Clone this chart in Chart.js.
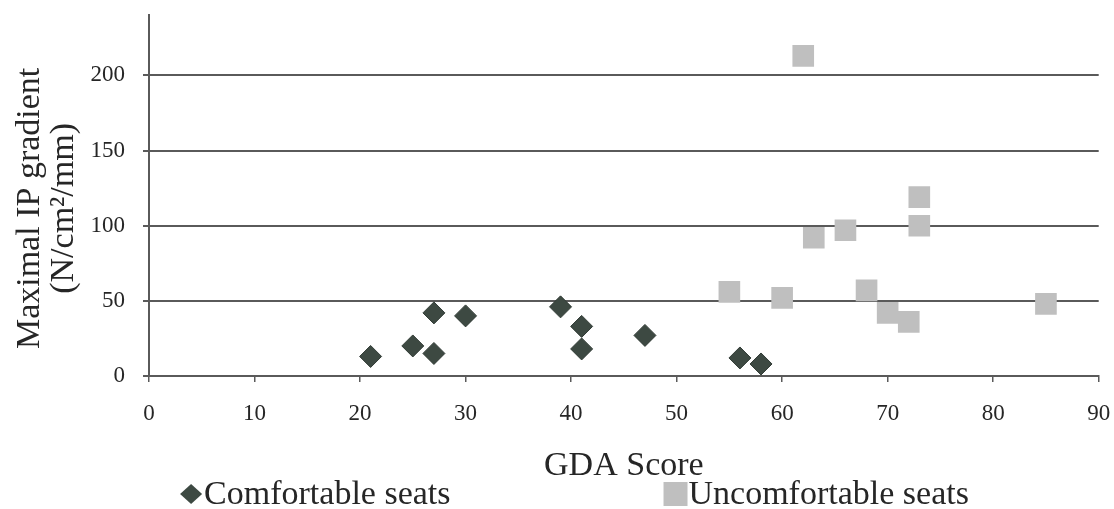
<!DOCTYPE html>
<html>
<head>
<meta charset="utf-8">
<script src="https://cdn.jsdelivr.net/npm/chart.js@4/dist/chart.umd.min.js"></script>
<style>
  html, body { margin: 0; padding: 0; background: #ffffff; }
  #wrap { width: 1114px; height: 509px; }
</style>
</head>
<body>
<div id="wrap"><canvas id="c" width="1114" height="509"></canvas></div>
<script>
// GDA score vs. maximal IP gradient, per seat group
const comfortableX   = [21, 25, 27, 27, 30, 39, 41, 41, 47, 56, 58];
const comfortableY   = [13, 20, 42, 15, 40, 46, 33, 18, 27, 12, 8];
const uncomfortableX = [55, 60, 62, 63, 66, 68, 70, 72, 73, 73, 85];
const uncomfortableY = [56, 52, 213, 92, 97, 57, 42, 36, 100, 119, 48];

const xTickValues = [0, 10, 20, 30, 40, 50, 60, 70, 80, 90];
const yTickValues = [0, 50, 100, 150, 200];

const seriesNames = ['Comfortable seats', 'Uncomfortable seats'];
const xTitle = 'GDA Score';
// trailing spaces nudge the rotated title lines a little lower
const yTitle = ['Maximal IP gradient\u00A0\u00A0\u00A0', '(N/cm\u00B2/mm)\u00A0\u00A0\u00A0'];

const SERIF = '"Liberation Serif", "Times New Roman", serif';
const LINE = '#5a5a5a';
const TEXT = '#262626';

function toPoints(xs, ys) {
  return xs.map((x, i) => ({ x: x, y: ys[i] }));
}

// Legend drawn below the axis title: marker followed by its label
const seatLegend = {
  id: 'seatLegend',
  afterDraw(chart) {
    const ctx = chart.ctx;
    ctx.save();
    ctx.font = '34px ' + SERIF;
    ctx.textBaseline = 'middle';
    ctx.textAlign = 'left';
    const markW = 24, textGap = 1, itemGap = 213;
    const items = chart.data.datasets.map(ds => ({
      text: ds.label,
      style: ds.pointStyle,
      color: ds.backgroundColor,
      w: ctx.measureText(ds.label).width
    }));
    const total = items.reduce((s, it) => s + markW + textGap + it.w, 0) + itemGap * (items.length - 1);
    let x = chart.width / 2 + 17 - total / 2;
    const y = chart.height - 15;
    items.forEach(it => {
      const cx = x + markW / 2;
      ctx.fillStyle = it.color;
      ctx.beginPath();
      if (it.style === 'rectRot') {
        ctx.moveTo(cx - 11, y);
        ctx.lineTo(cx, y - 10);
        ctx.lineTo(cx + 11, y);
        ctx.lineTo(cx, y + 10);
        ctx.closePath();
      } else {
        ctx.rect(cx - 12, y - 12, 24, 24);
      }
      ctx.fill();
      ctx.fillStyle = TEXT;
      ctx.fillText(it.text, x + markW + textGap, y + 1);
      x += markW + textGap + it.w + itemGap;
    });
    ctx.restore();
  }
};

new Chart(document.getElementById('c'), {
  type: 'scatter',
  data: {
    datasets: [
      {
        label: seriesNames[0],
        data: toPoints(comfortableX, comfortableY),
        pointStyle: 'rectRot',
        pointRadius: 11,
        pointHoverRadius: 11,
        backgroundColor: '#3d4942',
        borderColor: '#323c36',
        borderWidth: 1
      },
      {
        label: seriesNames[1],
        data: toPoints(uncomfortableX, uncomfortableY),
        pointStyle: 'rect',
        pointRadius: 15.3,
        pointHoverRadius: 15.3,
        backgroundColor: '#bfbfbf',
        borderColor: '#bfbfbf',
        borderWidth: 0
      }
    ]
  },
  options: {
    responsive: false,
    animation: false,
    devicePixelRatio: 1,
    layout: { padding: { top: 15, right: 15, bottom: 21, left: 0 } },
    plugins: {
      legend: { display: false },
      tooltip: { enabled: false }
    },
    scales: {
      x: {
        type: 'linear',
        min: 0,
        max: 90,
        afterBuildTicks(scale) { scale.ticks = xTickValues.map(v => ({ value: v })); },
        afterFit(scale) {
          scale.height = 112;
          scale.paddingLeft = 0;
          scale.paddingRight = 0;
        },
        grid: { drawOnChartArea: false, drawTicks: true, tickLength: 6, color: LINE, lineWidth: 1.5 },
        border: { display: true, color: LINE, width: 2 },
        ticks: { color: TEXT, font: { family: SERIF, size: 23 }, padding: 18 },
        title: {
          display: true,
          text: xTitle,
          color: TEXT,
          font: { family: SERIF, size: 34 },
          padding: { top: 0, bottom: 2 }
        }
      },
      y: {
        type: 'linear',
        min: 0,
        max: 240,
        afterBuildTicks(scale) { scale.ticks = yTickValues.map(v => ({ value: v })); },
        afterFit(scale) {
          scale.width = 149;
          scale.paddingTop = 0;
          scale.paddingBottom = 0;
        },
        grid: { drawOnChartArea: true, drawTicks: true, tickLength: 6, color: LINE, lineWidth: 2 },
        border: { display: true, color: LINE, width: 2 },
        ticks: { color: TEXT, font: { family: SERIF, size: 23 }, padding: 18 },
        title: {
          display: true,
          text: yTitle,
          color: TEXT,
          font: { family: SERIF, size: 34, lineHeight: 1.0 },
          padding: { top: 13, bottom: 0 }
        }
      }
    }
  },
  plugins: [seatLegend]
});
</script>
</body>
</html>
